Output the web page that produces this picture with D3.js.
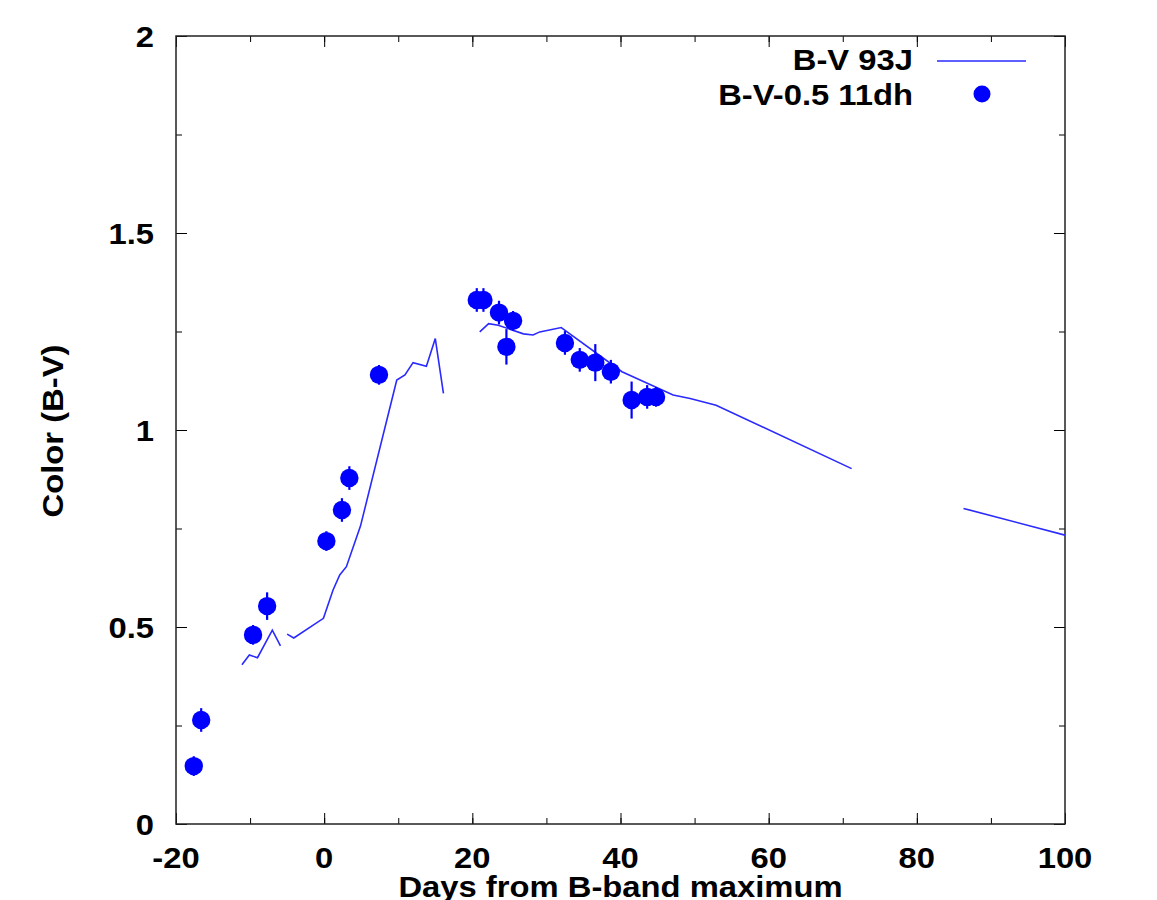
<!DOCTYPE html>
<html>
<head>
<meta charset="utf-8">
<script src="https://cdn.jsdelivr.net/npm/d3@7"></script>
<style>
  body { margin: 0; background: #fff; }
  text { font-family: "Liberation Sans", Arial, sans-serif; font-weight: bold; fill: #000; }
</style>
</head>
<body>
<svg id="chart" width="1157" height="900"></svg>
<script>
// B-V 93J, broken into the pieces the reference shows
let sn93jSegments = [
    [[-11.1, 0.404], [-10.1, 0.429], [-9.0, 0.422], [-7.0, 0.492], [-5.9, 0.452]],
    [[-5.0, 0.482], [-4.1, 0.472], [-0.1, 0.522], [1.2, 0.594], [2.1, 0.632], [3.0, 0.653],
     [4.9, 0.756], [9.8, 1.127], [10.9, 1.14], [12.0, 1.171], [13.8, 1.162], [15.0, 1.232], [16.1, 1.093]],
    [[21.0, 1.249], [22.2, 1.270], [23.5, 1.266], [26.9, 1.244], [28.2, 1.241], [29.1, 1.249],
     [32.0, 1.260], [40.2, 1.148], [47.1, 1.089], [49.4, 1.080], [52.9, 1.063], [71.2, 0.902]],
    [[86.3, 0.801], [100, 0.733]]
];

// B-V - 0.5 for 11dh
let days11dh = [-17.6, -16.6, -9.6, -7.7, 0.3, 2.4, 3.4, 7.4, 20.6, 21.5, 23.6, 25.5, 24.6,
                32.5, 34.5, 36.6, 38.7, 41.5, 43.6, 44.8];
let color11dh = [0.147, 0.264, 0.480, 0.553, 0.718, 0.797, 0.878, 1.140, 1.330, 1.330, 1.298, 1.277, 1.211,
                 1.221, 1.178, 1.171, 1.148, 1.076, 1.084, 1.084];
let err11dh = [0.025, 0.03, 0.025, 0.035, 0.025, 0.03, 0.03, 0.025, 0.03, 0.03, 0.03, 0.025, 0.045,
               0.03, 0.03, 0.047, 0.03, 0.047, 0.03, 0.025];

let xTicks = [-20, 0, 20, 40, 60, 80, 100];
let yTicks = [0, 0.5, 1, 1.5, 2];

let mLeft = 176, mRight = 1065, mTop = 36, mBottom = 824;
let fontSize = 29, stretch = 1.13;
let svg = d3.select('#chart');

let x = d3.scaleLinear().domain([-20, 100]).range([mLeft, mRight]);
let y = d3.scaleLinear().domain([0, 2]).range([mBottom, mTop]);

// wide bold text like the gnuplot output
function label(px, py, str, anchor, rotate) {
    return svg.append('text')
        .attr('transform', `translate(${px},${py})` + (rotate ? ` rotate(${rotate})` : '') + ` scale(${stretch},1)`)
        .attr('text-anchor', anchor)
        .attr('font-size', fontSize)
        .text(str);
}

svg.append('defs').append('clipPath').attr('id', 'clip')
    .append('rect').attr('x', mLeft).attr('y', mTop).attr('width', mRight - mLeft).attr('height', mBottom - mTop);

// ticks inward on all four sides
function addTicks(axis, tx, ty) {
    let g = svg.append('g').attr('transform', `translate(${tx},${ty})`).call(axis.tickFormat(''));
    g.select('.domain').remove();
    g.selectAll('text').remove();
    g.selectAll('line').attr('stroke', '#000').attr('stroke-width', 1);
    return g;
}

let xMinor = d3.range(-20, 101, 10);
let yMinor = d3.range(0, 2.01, 0.25);

addTicks(d3.axisBottom(x).tickValues(xMinor).tickSize(-6), 0, mBottom);
addTicks(d3.axisTop(x).tickValues(xMinor).tickSize(-6), 0, mTop);
addTicks(d3.axisLeft(y).tickValues(yMinor).tickSize(-6), mLeft, 0);
addTicks(d3.axisRight(y).tickValues(yMinor).tickSize(-6), mRight, 0);
addTicks(d3.axisBottom(x).tickValues(xTicks).tickSize(-11), 0, mBottom);
addTicks(d3.axisTop(x).tickValues(xTicks).tickSize(-11), 0, mTop);
addTicks(d3.axisLeft(y).tickValues(yTicks).tickSize(-11), mLeft, 0);
addTicks(d3.axisRight(y).tickValues(yTicks).tickSize(-11), mRight, 0);

xTicks.forEach(t => label(x(t), mBottom + 44, String(t), 'middle'));
yTicks.forEach(t => label(mLeft - 22, y(t) + 11, String(t), 'end'));

// frame
svg.append('rect').attr('x', mLeft).attr('y', mTop).attr('width', mRight - mLeft).attr('height', mBottom - mTop)
    .attr('fill', 'none').attr('stroke', '#222').attr('stroke-width', 1.5);

// 93J line
let line = d3.line().x(d => x(d[0])).y(d => y(d[1]));
svg.append('g').attr('clip-path', 'url(#clip)')
    .selectAll('path').data(sn93jSegments).enter().append('path')
    .attr('d', line).attr('fill', 'none').attr('stroke', '#2a2aff').attr('stroke-width', 1.6);

// 11dh points with error bars
let pts = days11dh.map((d, i) => ({ t: d, c: color11dh[i], e: err11dh[i] }));
let gp = svg.append('g').attr('clip-path', 'url(#clip)');
gp.selectAll('line.err').data(pts).enter().append('line')
    .attr('x1', d => x(d.t)).attr('x2', d => x(d.t))
    .attr('y1', d => y(d.c - d.e)).attr('y2', d => y(d.c + d.e))
    .attr('stroke', '#0000ff').attr('stroke-width', 2.2);
gp.selectAll('circle').data(pts).enter().append('circle')
    .attr('cx', d => x(d.t)).attr('cy', d => y(d.c)).attr('r', 9.2)
    .attr('fill', '#0000ff');

// legend
label(913, 70, 'B-V 93J', 'end');
svg.append('line').attr('x1', 937).attr('x2', 1026).attr('y1', 61).attr('y2', 61)
    .attr('stroke', '#2a2aff').attr('stroke-width', 1.6);
label(913, 105, 'B-V-0.5 11dh', 'end');
svg.append('circle').attr('cx', 982).attr('cy', 94).attr('r', 8.5).attr('fill', '#0000ff');

// axis titles
label((mLeft + mRight) / 2, 897, 'Days from B-band maximum', 'middle');
label(63, 431, 'Color (B-V)', 'middle', -90);
</script>
</body>
</html>
